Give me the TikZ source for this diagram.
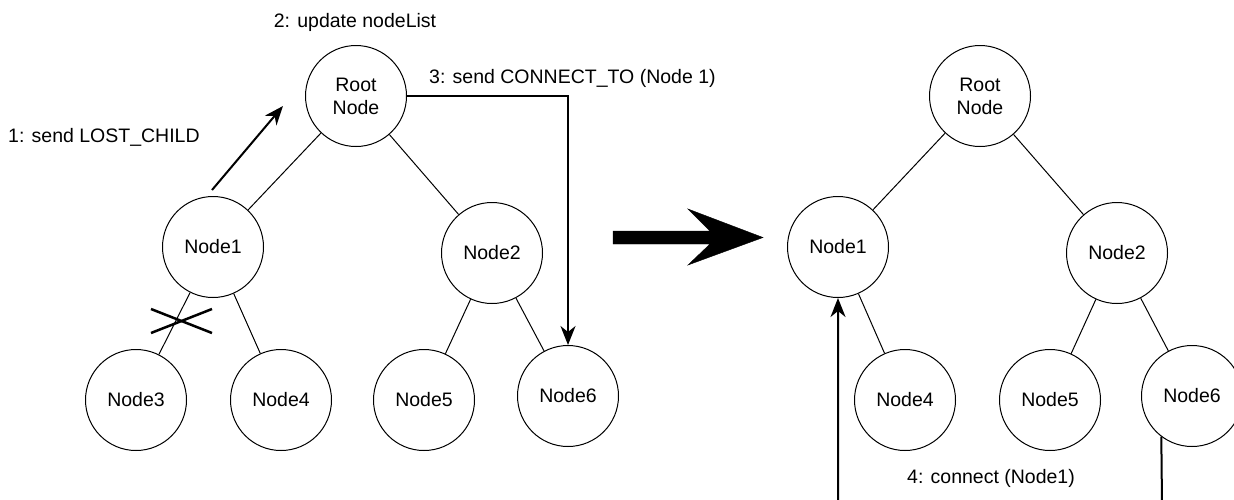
\documentclass[tikz,border=0pt]{standalone}
\usepackage{fontspec}
\setmainfont{Liberation Sans}
\usetikzlibrary{arrows.meta}
\tikzset{
  treenode/.style={circle,draw,line width=1pt,minimum size=101pt,inner sep=0pt,align=center,font=\fontsize{19.5}{23}\selectfont},
  treeedge/.style={line width=1pt},
  msgarrow/.style={line width=2pt,-{Stealth[length=19pt,width=15pt,inset=6pt]}},
  lbl/.style={font=\fontsize{19.5}{23}\selectfont,inner sep=0pt},
  crossline/.style={line width=2.5pt},
  bigarrow/.style={fill=black}
}
\begin{document}
\begin{tikzpicture}[x=1pt,y=-1pt]
\useasboundingbox (0,0) rectangle (1234,499);
% left tree
\node[treenode] (rootL) at (356,96) {Root\\Node};
\node[treenode] (n1L) at (213,247) {Node1};
\node[treenode] (n2L) at (492,253) {Node2};
\node[treenode] (n3L) at (136,400) {Node3};
\node[treenode] (n4L) at (281,400) {Node4};
\node[treenode] (n5L) at (424,400) {Node5};
\node[treenode] (n6L) at (568,396) {Node6};
\draw[treeedge] (rootL) -- (n1L);
\draw[treeedge] (rootL) -- (n2L);
\draw[treeedge] (n1L) -- (n3L);
\draw[treeedge] (n1L) -- (n4L);
\draw[treeedge] (n2L) -- (n5L);
\draw[treeedge] (n2L) -- (n6L);
% cross
\coordinate (xa) at (151,309);
\coordinate (xb) at (212,333);
\coordinate (xc) at (151,333);
\coordinate (xd) at (212,309);
\draw[crossline] (xa) -- (xb);
\draw[crossline] (xc) -- (xd);
% labels
\node[lbl] (t2) at (355,22) {2: update nodeList};
\node[lbl,anchor=west] (t3) at (429,78) {3: send CONNECT\_TO (Node 1)};
\node[lbl,anchor=west] (t1) at (8,137) {1: send LOST\_CHILD};
% arrow 1
\coordinate (a1s) at (212,190);
\coordinate (a1e) at (283,106);
\draw[msgarrow] (a1s) -- (a1e);
% arrow 3
\draw[msgarrow] (rootL.east) -| (n6L.north);
% big arrow
\coordinate (ba1) at (613,231);
\draw[bigarrow] (ba1) -- (710,231) -- (688,209) -- (763,237.5) -- (688,265) -- (710,244) -- (613,244) -- cycle;
% right tree
\node[treenode] (rootR) at (980,96) {Root\\Node};
\node[treenode] (n1R) at (838,247) {Node1};
\node[treenode] (n2R) at (1117,253) {Node2};
\node[treenode] (n4R) at (905,400) {Node4};
\node[treenode] (n5R) at (1050,400) {Node5};
\node[treenode] (n6R) at (1192,396) {Node6};
\draw[treeedge] (rootR) -- (n1R);
\draw[treeedge] (rootR) -- (n2R);
\draw[treeedge] (n1R) -- (n4R);
\draw[treeedge] (n2R) -- (n5R);
\draw[treeedge] (n2R) -- (n6R);
\node[lbl] (t4) at (991,478) {4: connect (Node1)};
% arrow 4
\begin{scope}
\clip (0,0) rectangle (1234,499);
\coordinate (b4) at (1162,505);
\draw[msgarrow] (n6R.233) -- (b4) -| (n1R.south);
\end{scope}
\end{tikzpicture}
\end{document}
